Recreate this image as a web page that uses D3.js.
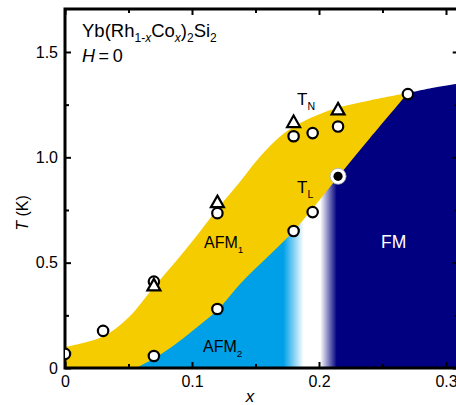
<!DOCTYPE html>
<html>
<head>
<meta charset="utf-8">
<script src="https://cdn.jsdelivr.net/npm/d3@7"></script>
<style>
  body { margin: 0; background: #fff; }
  svg { display: block; font-family: "Liberation Sans", Arial, sans-serif; }
  .axis text { font-size: 16px; fill: #000; }
  .axis line { stroke: #000; stroke-width: 2; }
  .axis path { display: none; }
</style>
</head>
<body>
<div id="chart"></div>
<script>
// upper edge of AFM1 (T_N line)
var tnLineX = [0, 0.03, 0.05, 0.07, 0.085, 0.102, 0.12, 0.138, 0.151, 0.165, 0.18, 0.209, 0.24, 0.27];
var tnLineT = [0.10, 0.15, 0.24, 0.385, 0.49, 0.615, 0.755, 0.885, 0.985, 1.075, 1.145, 1.225, 1.27, 1.305];
// top of FM region beyond the meeting point
var fmLineX = [0.27, 0.29, 0.31];
var fmLineT = [1.305, 1.33, 1.35];
// T_L line, lower edge of AFM1
var tlLineX = [0.056, 0.07, 0.085, 0.1, 0.12, 0.138, 0.16, 0.18, 0.214, 0.24, 0.27];
var tlLineT = [0, 0.045, 0.105, 0.175, 0.275, 0.40, 0.53, 0.65, 0.9, 1.09, 1.305];
// AFM2 -> FM crossover (x values where colour goes blue, white, white, navy)
var crossX = [0.172, 0.188, 0.201, 0.214];

// measured points
var triX = [0.07, 0.12, 0.18, 0.215];
var triT = [0.39, 0.785, 1.165, 1.225];
var circX = [0, 0.03, 0.07, 0.07, 0.12, 0.12, 0.18, 0.195, 0.18, 0.195, 0.215, 0.27];
var circT = [0.067, 0.176, 0.41, 0.057, 0.28, 0.735, 0.65, 0.74, 1.10, 1.115, 1.146, 1.30];
var fillX = [0.215];
var fillT = [0.91];

var xTicks = [0, 0.1, 0.2, 0.3];
var xMinor = [0.05, 0.15, 0.25];
var yTicks = [0, 0.5, 1.0, 1.5];
var yMinor = [0.25, 0.75, 1.25];

var w = 456, h = 405;
var plotL = 65, plotR = 458.7, plotT = 9, plotB = 368;

var svg = d3.select('#chart').append('svg')
            .attr('width', w)
            .attr('height', h);

var xScale = d3.scaleLinear().domain([0, 0.31]).range([plotL, plotR]);
var yScale = d3.scaleLinear().domain([0, 1.704]).range([plotB, plotT]);

var defs = svg.append('defs');
defs.append('clipPath').attr('id', 'plot')
    .append('rect')
    .attr('x', plotL).attr('y', plotT)
    .attr('width', plotR - plotL).attr('height', plotB - plotT);

var grad = defs.append('linearGradient')
               .attr('id', 'cross')
               .attr('gradientUnits', 'userSpaceOnUse')
               .attr('x1', xScale(crossX[0])).attr('x2', xScale(crossX[3]))
               .attr('y1', 0).attr('y2', 0);
var span = crossX[3] - crossX[0];
[['#00a0e9', crossX[0]], ['#ffffff', crossX[1]], ['#ffffff', crossX[2]], ['#000080', crossX[3]]]
  .forEach(function(s) {
    grad.append('stop')
        .attr('offset', (s[1] - crossX[0]) / span)
        .attr('stop-color', s[0]);
  });

var zip = function(xs, ts) { return xs.map(function(v, i) { return [v, ts[i]]; }); };
var tnPts = zip(tnLineX, tnLineT);
var tlPts = zip(tlLineX, tlLineT);
var fmPts = zip(fmLineX, fmLineT);

var curve = d3.line()
              .x(function(d) { return xScale(d[0]); })
              .y(function(d) { return yScale(d[1]); })
              .curve(d3.curveCatmullRom.alpha(0.5));

var areas = svg.append('g').attr('clip-path', 'url(#plot)');

// AFM1: everything under T_N, later covered by the lower regions
var yellowPath = curve(tnPts) +
  'L' + xScale(0.27) + ',' + yScale(0) + 'L' + xScale(0) + ',' + yScale(0) + 'Z';
areas.append('path').attr('d', yellowPath).attr('fill', '#f5cc00');

// AFM2 + FM: under T_L, then under the FM top line
var lowPath = curve(tlPts) + curve(fmPts).replace(/^M/, 'L') +
  'L' + xScale(0.31) + ',' + yScale(0) + 'Z';
areas.append('path').attr('d', lowPath).attr('fill', 'url(#cross)');

// axes
function fmt(d) { return d === 0 ? '0' : d3.format('.1f')(d); }

svg.append('g').attr('class', 'axis')
   .attr('transform', 'translate(0,' + plotB + ')')
   .call(d3.axisBottom(xScale).tickValues(xTicks).tickSize(-6).tickPadding(8).tickFormat(fmt));
svg.append('g').attr('class', 'axis')
   .attr('transform', 'translate(0,' + plotB + ')')
   .call(d3.axisBottom(xScale).tickValues(xMinor).tickSize(-4).tickFormat(''));
svg.append('g').attr('class', 'axis')
   .attr('transform', 'translate(0,' + plotT + ')')
   .call(d3.axisTop(xScale).tickValues(xTicks).tickSize(-6).tickFormat(''));
svg.append('g').attr('class', 'axis')
   .attr('transform', 'translate(0,' + plotT + ')')
   .call(d3.axisTop(xScale).tickValues(xMinor).tickSize(-4).tickFormat(''));

svg.append('g').attr('class', 'axis')
   .attr('transform', 'translate(' + plotL + ',0)')
   .call(d3.axisLeft(yScale).tickValues(yTicks).tickSize(-6).tickPadding(7).tickFormat(fmt));
svg.append('g').attr('class', 'axis')
   .attr('transform', 'translate(' + plotL + ',0)')
   .call(d3.axisLeft(yScale).tickValues(yMinor).tickSize(-4).tickFormat(''));
svg.append('g').attr('class', 'axis')
   .attr('transform', 'translate(' + plotR + ',0)')
   .call(d3.axisRight(yScale).tickValues(yTicks).tickSize(-6).tickFormat(''));
svg.append('g').attr('class', 'axis')
   .attr('transform', 'translate(' + plotR + ',0)')
   .call(d3.axisRight(yScale).tickValues(yMinor).tickSize(-4).tickFormat(''));

svg.append('rect')
   .attr('x', plotL).attr('y', plotT)
   .attr('width', plotR - plotL).attr('height', plotB - plotT)
   .attr('fill', 'none').attr('stroke', '#000').attr('stroke-width', 3);

// markers
var marks = svg.append('g').attr('clip-path', 'url(#plot)');

marks.selectAll('circle.open')
     .data(zip(circX, circT))
     .enter().append('circle')
     .attr('class', 'open')
     .attr('cx', function(d) { return xScale(d[0]); })
     .attr('cy', function(d) { return yScale(d[1]); })
     .attr('r', 5.2)
     .attr('fill', '#fff')
     .attr('stroke', '#000')
     .attr('stroke-width', 2.2);

marks.selectAll('path.tri')
     .data(zip(triX, triT))
     .enter().append('path')
     .attr('class', 'tri')
     .attr('d', 'M0,-7L6.5,4.5L-6.5,4.5Z')
     .attr('transform', function(d) { return 'translate(' + xScale(d[0]) + ',' + yScale(d[1]) + ')'; })
     .attr('fill', '#fff')
     .attr('stroke', '#000')
     .attr('stroke-width', 2.2)
     .attr('stroke-linejoin', 'miter');

var filled = marks.selectAll('g.filled')
     .data(zip(fillX, fillT))
     .enter().append('g')
     .attr('transform', function(d) { return 'translate(' + xScale(d[0]) + ',' + yScale(d[1]) + ')'; });
filled.append('circle').attr('r', 8).attr('fill', '#fff').attr('stroke', '#aaa').attr('stroke-width', 0.8);
filled.append('circle').attr('r', 4.6).attr('fill', '#000');

// text
var title = svg.append('text').attr('x', 82).attr('y', 37).attr('font-size', 18.5);
title.append('tspan').text('Yb(Rh');
title.append('tspan').attr('dy', 5).attr('font-size', 12).text('1-');
title.append('tspan').attr('font-size', 12).attr('font-style', 'italic').text('x');
title.append('tspan').attr('dy', -5).text('Co');
title.append('tspan').attr('dy', 5).attr('font-size', 12).attr('font-style', 'italic').text('x');
title.append('tspan').attr('dy', -5).text(')');
title.append('tspan').attr('dy', 5).attr('font-size', 12).text('2');
title.append('tspan').attr('dy', -5).text('Si');
title.append('tspan').attr('dy', 5).attr('font-size', 12).text('2');

var hText = svg.append('text').attr('x', 82).attr('y', 62).attr('font-size', 18);
hText.append('tspan').attr('font-style', 'italic').text('H');
hText.append('tspan').text('\u2009=\u20090');

function labelSub(x, y, main, sub, size, color) {
  var t = svg.append('text').attr('x', x).attr('y', y)
             .attr('font-size', size).attr('fill', color || '#000');
  t.append('tspan').text(main);
  if (sub) t.append('tspan').attr('dy', 5).attr('font-size', size * 0.62).text(sub);
}
labelSub(297, 105, 'T', 'N', 17);
labelSub(297, 193, 'T', 'L', 17);
labelSub(204, 248, 'AFM', '1', 16);
labelSub(203, 352, 'AFM', '2', 16);
labelSub(381, 248, 'FM', null, 17.5, '#fff');

var yTitle = svg.append('text')
                .attr('transform', 'translate(28,213) rotate(-90)')
                .attr('text-anchor', 'middle')
                .attr('font-size', 16);
yTitle.append('tspan').attr('font-style', 'italic').text('T');
yTitle.append('tspan').text(' (K)');

svg.append('text').attr('x', 250).attr('y', 402)
   .attr('text-anchor', 'middle').attr('font-size', 17)
   .attr('font-style', 'italic').text('x');
</script>
</body>
</html>
